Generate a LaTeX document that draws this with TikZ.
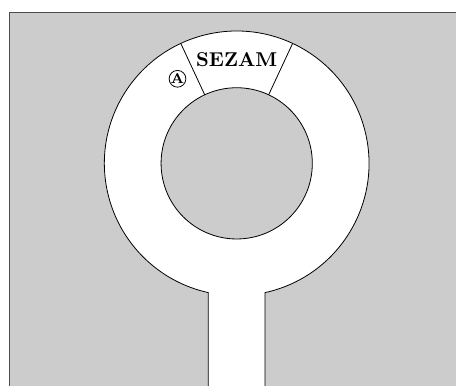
\documentclass[tikz,border=0pt]{standalone}
\usepackage{amsmath, amssymb}
\usepackage{xcolor}
\usepackage{tikz}
\usetikzlibrary{calc, positioning}

\begin{document}
\begin{tikzpicture}[x=18.9pt, y=18.9pt]
    % 1. Khung hinh va nen xam
    \useasboundingbox (-6.26,-5.865) rectangle (5.80,4.32);
    \clip (-6.26,-5.865) rectangle (5.80,4.32);
    \fill[black!20, draw=black!70, line width=0.6pt] (-6,-6) rectangle (6,4);

    % 2. Vong xuyen va loi vao phia duoi
    \fill[white] (0,0) circle (3.5);
    \fill[white] (-0.75,-6.5) rectangle (0.75,-3);
    \draw[black, line width=0.4pt] (0.75,-6.5) -- (-77.627:3.5)
        arc[start angle=-77.627, end angle=257.627, radius=3.5] -- (-0.75,-6.5);

    % Dao o giua
    \draw[black, fill=black!20, line width=0.4pt] (0,0) circle (2);

    % 3. Doan SEZAM
    \draw[black, line width=0.4pt] (115:2) -- (115:3.5);
    \draw[black, line width=0.4pt] (65:2) -- (65:3.5);
    \node (sezam) at (90:2.73) {\bfseries SEZAM};
    \node[draw, circle, inner sep=0pt, font=\fontsize{7}{8}\selectfont\bfseries] (pointA) at (125:2.73) {A};
\end{tikzpicture}
\end{document}
